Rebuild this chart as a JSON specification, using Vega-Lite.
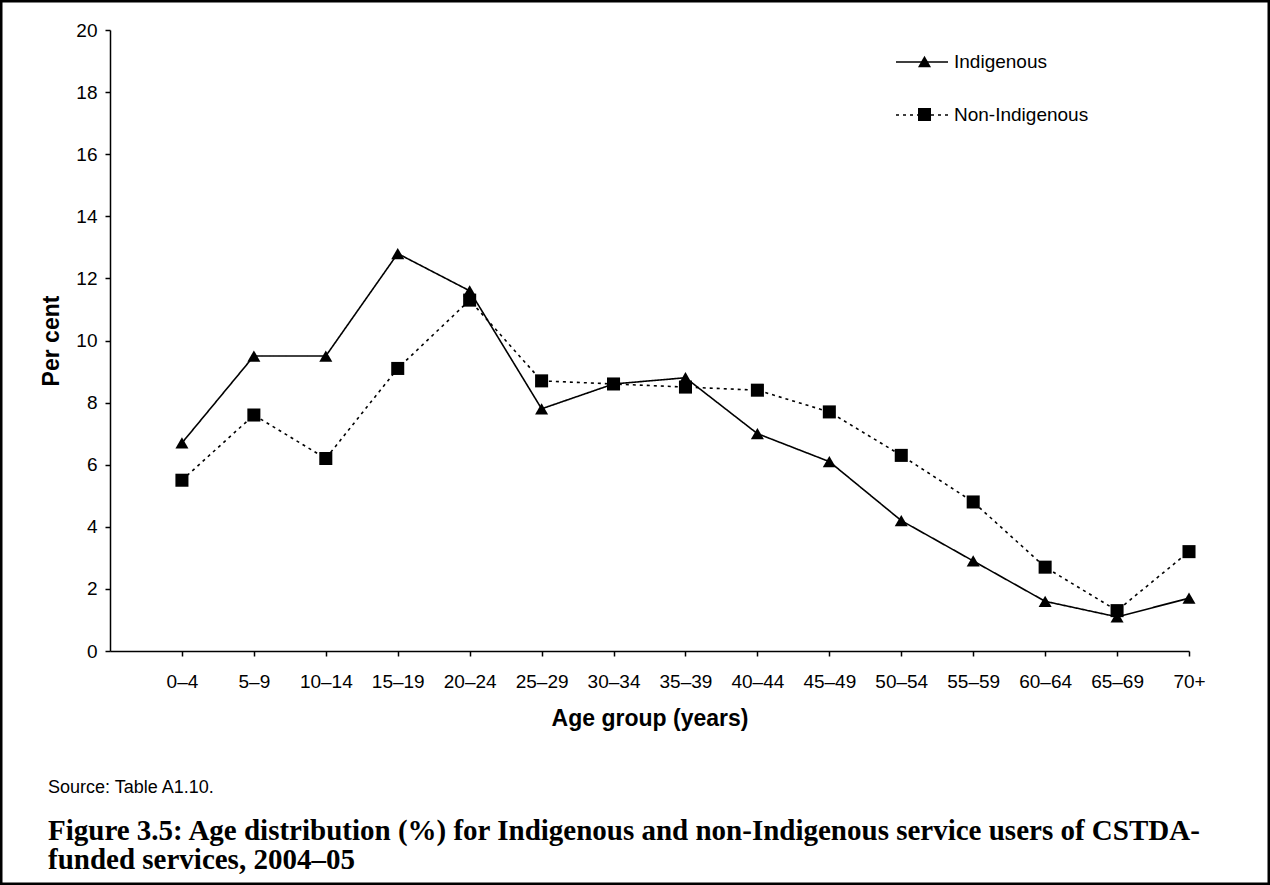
{
  "$schema": "https://vega.github.io/schema/vega-lite/v6.json",
  "width": 1270,
  "height": 885,
  "autosize": {"type": "none"},
  "padding": 0,
  "background": "white",
  "config": {
    "view": {"stroke": "black", "strokeWidth": 5, "fill": "white"},
    "axis": {"grid": false, "domainColor": "black", "domainWidth": 1.5, "tickColor": "black", "tickWidth": 1.5, "tickSize": 5, "labelColor": "black", "labelFont": "Liberation Sans", "labelFontSize": 19, "titleColor": "black", "titleFont": "Liberation Sans", "titleFontSize": 23, "titleFontWeight": "bold"}
  },
  "title": {
    "text": "Source: Table A1.10.",
    "subtitle": ["Figure 3.5: Age distribution (%) for Indigenous and non-Indigenous service users of CSTDA-", "funded services, 2004–05"],
    "orient": "bottom",
    "anchor": "start",
    "frame": "group",
    "offset": -106,
    "dx": 48,
    "font": "Liberation Sans",
    "fontSize": 18,
    "fontWeight": "normal",
    "color": "black",
    "subtitleFont": "Liberation Serif",
    "subtitleFontSize": 29,
    "subtitleFontWeight": "bold",
    "subtitleColor": "black",
    "subtitleLineHeight": 29,
    "subtitlePadding": 20
  },
  "data": {
    "values": [
      {"age": "0–4", "series": "Indigenous", "pct": 6.7},
      {"age": "5–9", "series": "Indigenous", "pct": 9.5},
      {"age": "10–14", "series": "Indigenous", "pct": 9.5},
      {"age": "15–19", "series": "Indigenous", "pct": 12.8},
      {"age": "20–24", "series": "Indigenous", "pct": 11.6},
      {"age": "25–29", "series": "Indigenous", "pct": 7.8},
      {"age": "30–34", "series": "Indigenous", "pct": 8.6},
      {"age": "35–39", "series": "Indigenous", "pct": 8.8},
      {"age": "40–44", "series": "Indigenous", "pct": 7.0},
      {"age": "45–49", "series": "Indigenous", "pct": 6.1},
      {"age": "50–54", "series": "Indigenous", "pct": 4.2},
      {"age": "55–59", "series": "Indigenous", "pct": 2.9},
      {"age": "60–64", "series": "Indigenous", "pct": 1.6},
      {"age": "65–69", "series": "Indigenous", "pct": 1.1},
      {"age": "70+", "series": "Indigenous", "pct": 1.7},
      {"age": "0–4", "series": "Non-Indigenous", "pct": 5.5},
      {"age": "5–9", "series": "Non-Indigenous", "pct": 7.6},
      {"age": "10–14", "series": "Non-Indigenous", "pct": 6.2},
      {"age": "15–19", "series": "Non-Indigenous", "pct": 9.1},
      {"age": "20–24", "series": "Non-Indigenous", "pct": 11.3},
      {"age": "25–29", "series": "Non-Indigenous", "pct": 8.7},
      {"age": "30–34", "series": "Non-Indigenous", "pct": 8.6},
      {"age": "35–39", "series": "Non-Indigenous", "pct": 8.5},
      {"age": "40–44", "series": "Non-Indigenous", "pct": 8.4},
      {"age": "45–49", "series": "Non-Indigenous", "pct": 7.7},
      {"age": "50–54", "series": "Non-Indigenous", "pct": 6.3},
      {"age": "55–59", "series": "Non-Indigenous", "pct": 4.8},
      {"age": "60–64", "series": "Non-Indigenous", "pct": 2.7},
      {"age": "65–69", "series": "Non-Indigenous", "pct": 1.3},
      {"age": "70+", "series": "Non-Indigenous", "pct": 3.2}
    ]
  },
  "encoding": {
    "x": {
      "field": "age", "type": "ordinal",
      "sort": ["0–4","5–9","10–14","15–19","20–24","25–29","30–34","35–39","40–44","45–49","50–54","55–59","60–64","65–69","70+"],
      "scale": {"type": "point", "range": [110, 1189], "padding": 0.5, "align": 1},
      "axis": {"title": "Age group (years)", "offset": -234, "labelAngle": 0, "labelPadding": 16, "titlePadding": 16}
    },
    "y": {
      "field": "pct", "type": "quantitative",
      "scale": {"domain": [0, 20], "range": [651, 30], "nice": false},
      "axis": {"title": "Per cent", "offset": -110, "values": [0,2,4,6,8,10,12,14,16,18,20], "labelPadding": 8, "titlePadding": 12}
    }
  },
  "layer": [
    {
      "mark": {"type": "line", "color": "black", "strokeWidth": 1.6},
      "encoding": {
        "strokeDash": {
          "field": "series", "type": "nominal",
          "scale": {"domain": ["Indigenous", "Non-Indigenous"], "range": [[1, 0], [3, 4]]},
          "legend": {"orient": "none", "legendX": 895, "legendY": 35, "title": null, "symbolType": "stroke", "symbolSize": 2704, "symbolStrokeWidth": 1.5, "symbolStrokeColor": "black", "labelFont": "Liberation Sans", "labelFontSize": 19, "labelColor": "black", "labelOffset": 5, "rowPadding": 16}
        }
      }
    },
    {
      "mark": {"type": "point", "filled": true, "color": "black", "opacity": 1, "size": 170},
      "encoding": {
        "shape": {
          "field": "series", "type": "nominal",
          "scale": {"domain": ["Non-Indigenous", "Indigenous"], "range": ["square", "triangle-up"]},
          "legend": {"orient": "none", "legendX": 915, "legendY": 52, "title": null, "values": ["Indigenous", "Non-Indigenous"], "symbolFillColor": "black", "symbolStrokeColor": "black", "symbolSize": 170, "symbolOpacity": 1, "labelExpr": "''", "labelFontSize": 19, "rowPadding": 32}
        }
      }
    }
  ]
}
